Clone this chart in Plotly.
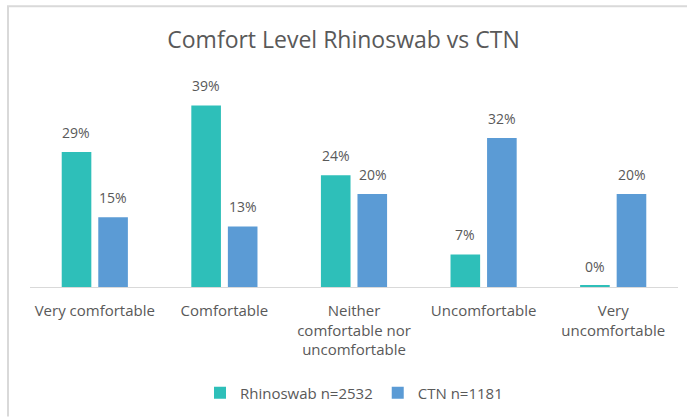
import plotly.graph_objects as go

categories = ["Very comfortable", "Comfortable", "Neither<br>comfortable nor<br>uncomfortable",
              "Uncomfortable", "Very<br>uncomfortable"]
rhinoswab = [0.29, 0.39, 0.24, 0.07, 0.003]
rhinoswab_labels = ["29%", "39%", "24%", "7%", "0%"]
ctn = [0.15, 0.13, 0.20, 0.32, 0.20]
ctn_labels = ["15%", "13%", "20%", "32%", "20%"]

TEAL = "#2EBFB9"
BLUE = "#5B9BD5"
TXT = "#595959"
FONT = "Open Sans"

fig = go.Figure()
fig.add_trace(go.Bar(name="Rhinoswab n=2532", x=categories, y=rhinoswab,
                     marker=dict(color=TEAL, line=dict(width=0))))
fig.add_trace(go.Bar(name="CTN n=1181", x=categories, y=ctn,
                     marker=dict(color=BLUE, line=dict(width=0))))

annotations = []
for c, v, t in zip(categories, rhinoswab, rhinoswab_labels):
    annotations.append(dict(x=c, y=v, text=t, xref="x", yref="y", showarrow=False,
                            xshift=-18.5, yshift=8, yanchor="bottom",
                            font=dict(family=FONT, size=14, color=TXT)))
for c, v, t in zip(categories, ctn, ctn_labels):
    annotations.append(dict(x=c, y=v, text=t, xref="x", yref="y", showarrow=False,
                            xshift=18.5, yshift=8, yanchor="bottom",
                            font=dict(family=FONT, size=14, color=TXT)))

L, R, T, B = 30, 9, 78, 129
W, H = 687, 417
pw, ph = W - L - R, H - T - B

def px_x(p):
    return (p - L) / pw

def px_y(p):
    return (H - B - p) / ph

shapes = [
    dict(type="line", xref="paper", yref="paper", x0=px_x(7), x1=px_x(688), y0=px_y(6), y1=px_y(6),
         line=dict(color="#D9D9D9", width=2)),
    dict(type="line", xref="paper", yref="paper", x0=px_x(8), x1=px_x(8), y0=px_y(6), y1=px_y(418),
         line=dict(color="#D9D9D9", width=2)),
]

fig.update_layout(
    width=W, height=H,
    margin=dict(l=L, r=R, t=T, b=B),
    paper_bgcolor="white", plot_bgcolor="white",
    barmode="group", bargap=0.436, bargroupgap=0.19,
    title=dict(text="Comfort Level Rhinoswab vs CTN", x=0.5, xanchor="center",
               y=1 - 40 / H, yanchor="middle",
               font=dict(family=FONT, size=23, color=TXT)),
    font=dict(family=FONT, size=15, color=TXT),
    showlegend=True,
    legend=dict(orientation="h", x=px_x(354), xanchor="center", y=px_y(393), yanchor="middle",
                font=dict(family=FONT, size=15, color=TXT), itemwidth=30,
                bgcolor="rgba(0,0,0,0)"),
    xaxis=dict(showline=True, linecolor="#D9D9D9", linewidth=1, ticks="", showgrid=False,
               tickfont=dict(family=FONT, size=15, color=TXT), ticklabelstandoff=10,
               automargin=False, fixedrange=True),
    yaxis=dict(range=[0, 0.449], visible=False, showgrid=False, zeroline=False, fixedrange=True),
    annotations=annotations,
    shapes=shapes,
)

fig.write_html("out.html", config={"displayModeBar": False},
               post_script="document.body.style.margin='0';")
